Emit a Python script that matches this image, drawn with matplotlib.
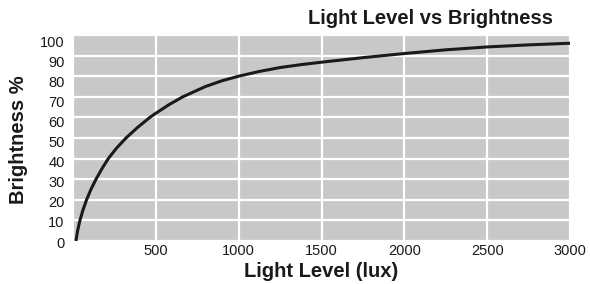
import matplotlib.pyplot as plt
from matplotlib.transforms import ScaledTranslation

plt.rcParams['font.family'] = ['Liberation Sans', 'DejaVu Sans']

# values
lux = [18, 28, 42, 60, 82, 108, 139, 174, 213, 262, 320, 388, 464, 500,
       580, 663, 800, 900, 1000, 1125, 1250, 1375, 1500, 1750, 2000,
       2250, 2500, 2750, 3000]
brightness = [0, 5, 10, 15, 20, 25, 30, 35, 40, 45, 50, 55, 60, 62,
              66.2, 70, 75, 77.8, 80, 82.3, 84.2, 85.6, 86.8, 89, 91,
              92.8, 94.2, 95.2, 96]

x_ticks = [500, 1000, 1500, 2000, 2500, 3000]
y_ticks = [0, 10, 20, 30, 40, 50, 60, 70, 80, 90, 100]

fig = plt.figure(figsize=(5.9, 2.84), dpi=100)
ax = fig.add_axes([0.1237, 0.1514, 0.8425, 0.7254])
ax.set_facecolor('#c8c8c8')
for s in ax.spines.values():
    s.set_visible(False)

ax.set_xlim(0, 3000)
ax.set_ylim(0, 100)
ax.set_xticks([0] + x_ticks)
ax.set_xticklabels([''] + [str(t) for t in x_ticks])
ax.set_yticks(y_ticks)
ax.grid(True, color='white', linewidth=1.6)
ax.set_axisbelow(True)
ax.tick_params(length=0, labelsize=10.5, colors='#1a1a1a')
ax.tick_params(axis='x', pad=2)
ax.tick_params(axis='y', pad=6)

# y labels in the reference sit a little below their grid lines
for v, lab in zip(y_ticks, ax.get_yticklabels()):
    dy = (1 + v * 0.055) * 0.72 / 72
    lab.set_transform(lab.get_transform() + ScaledTranslation(0, -dy, fig.dpi_scale_trans))

ax.plot(lux, brightness, color='#1a1a1a', linewidth=2.2, solid_capstyle='butt',
        solid_joinstyle='round')

ax.set_xlabel('Light Level (lux)', fontsize=14.5, fontweight='bold', color='#1a1a1a',
              va='center')
ax.xaxis.set_label_coords(0.5, -0.146)
ax.set_ylabel('Brightness %', fontsize=14.5, fontweight='bold', color='#1a1a1a',
              va='center')
ax.yaxis.set_label_coords(-0.109, 0.49)
fig.text(553 / 590, 1 - 19 / 284, 'Light Level vs Brightness', ha='right', va='center',
         fontsize=14.5, fontweight='bold', color='#1a1a1a')

fig.savefig('out.png', dpi=100)
